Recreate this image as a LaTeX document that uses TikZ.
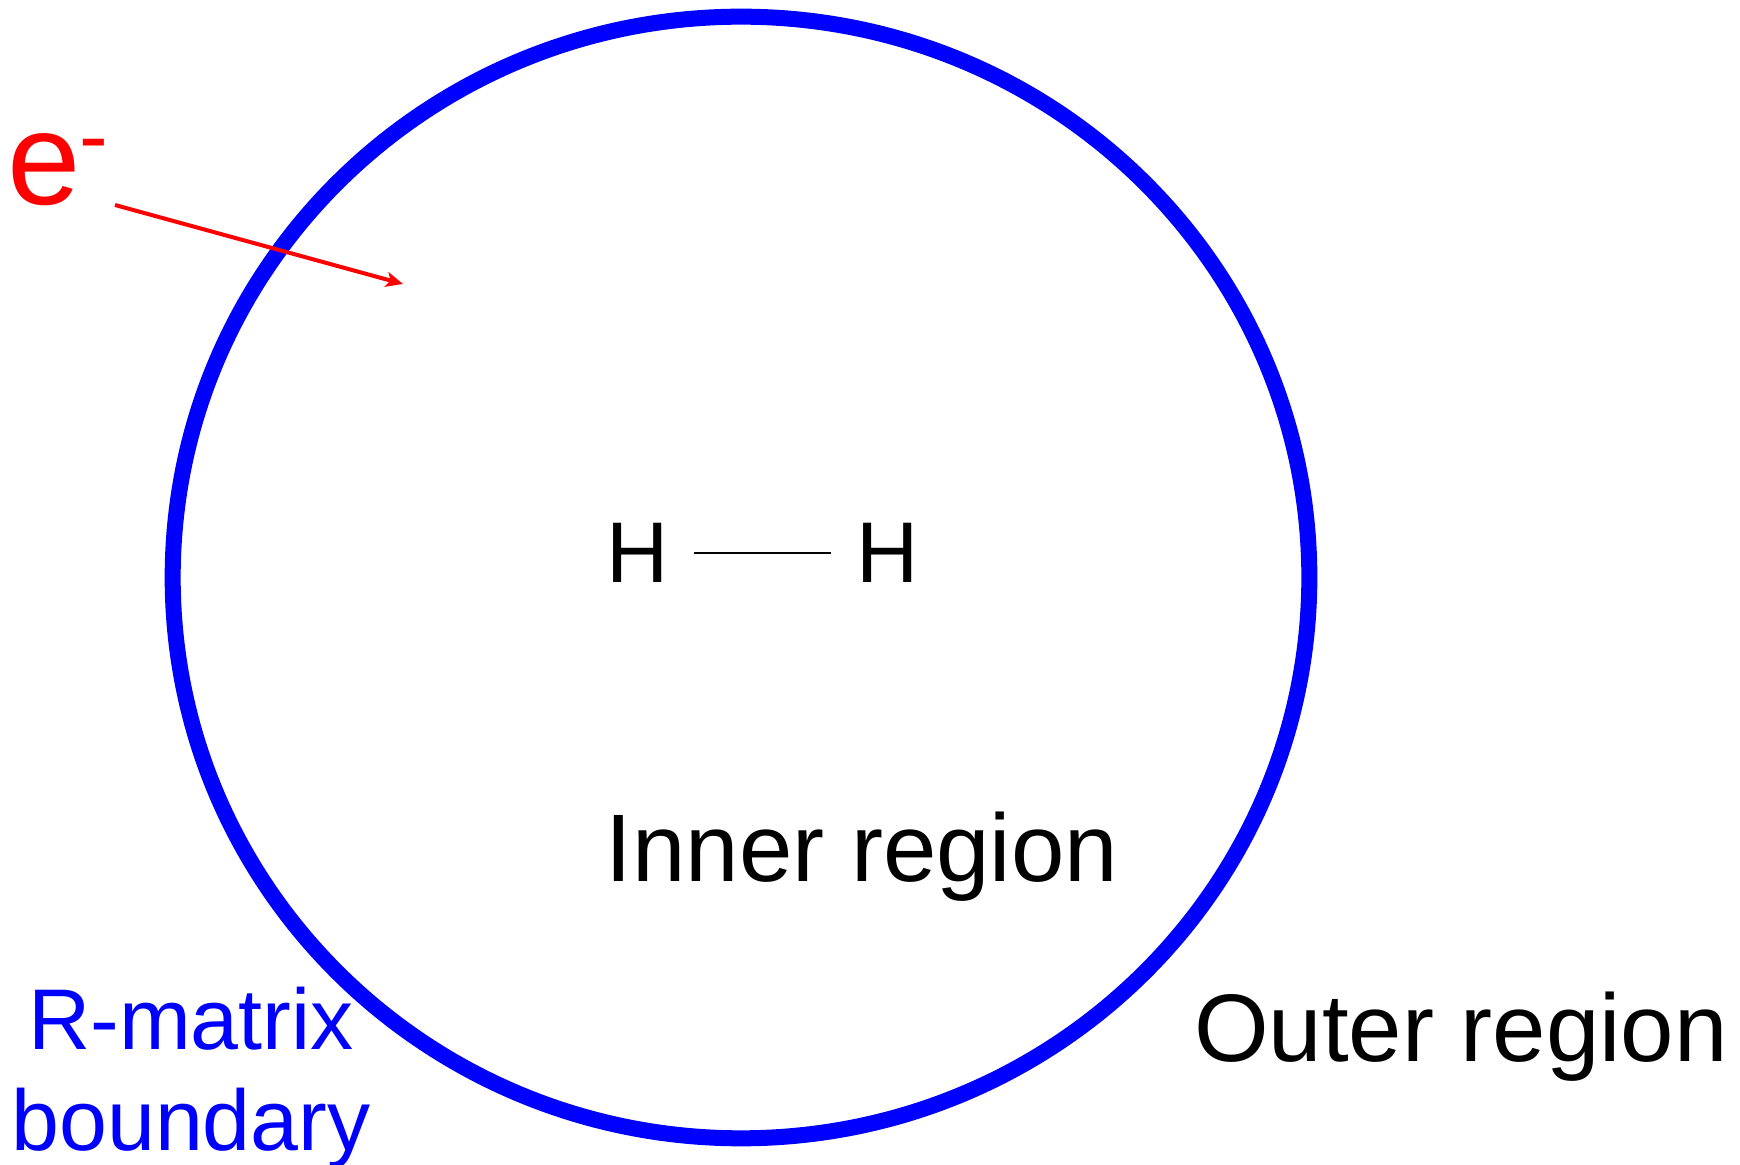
\documentclass[tikz,border=0pt]{standalone}
\usepackage{fontspec}
\setmainfont{Liberation Sans}
\usetikzlibrary{arrows.meta}
\definecolor{BoundBlue}{RGB}{0,0,255}
\definecolor{ElecRed}{RGB}{255,0,0}

\begin{document}
\begin{tikzpicture}[x=0.01cm,y=-0.01cm,
    lbl/.style={inner sep=0pt,anchor=base},
    atom/.style={inner sep=0pt,font=\fontsize{24.5pt}{29pt}\selectfont},
    region/.style={lbl,font=\fontsize{27.3pt}{32pt}\selectfont}
  ]
  \useasboundingbox (0,0) rectangle (1740,1165);
  % R-matrix sphere
  \draw[BoundBlue,line width=0.16cm] (741,577.5) ellipse [x radius=5.68cm, y radius=5.605cm];
  % molecule
  \node[atom] (hl) at (637.5,553) {H};
  \node[atom] (hr) at (888,553) {H};
  \draw[line width=0.02cm,shorten <=0.25cm,shorten >=0.25cm] (hl) -- (hr);
  \node[region] (inner) at (862,882) {Inner region};
  \node[region] (outer) at (1461,1061) {Outer region};
  \node[lbl,align=center,BoundBlue,font=\fontsize{24.5pt}{28.7pt}\selectfont] (rmat) at (191,1150) {R-matrix\\boundary};
  % incoming electron
  \node[lbl,anchor=base west,ElecRed,font=\fontsize{37.5pt}{45pt}\selectfont] (elec) at (7,205)
    {e\kern-0.02cm\raisebox{0.39cm}{\fontsize{24.5pt}{29pt}\selectfont -}};
  \coordinate (start) at (115,205);
  \coordinate (tip) at (403,284);
  \draw[ElecRed,line width=0.04cm,-{Stealth[length=0.17cm,width=0.15cm,inset=0.04cm]}] (start) -- (tip);
\end{tikzpicture}
\end{document}
